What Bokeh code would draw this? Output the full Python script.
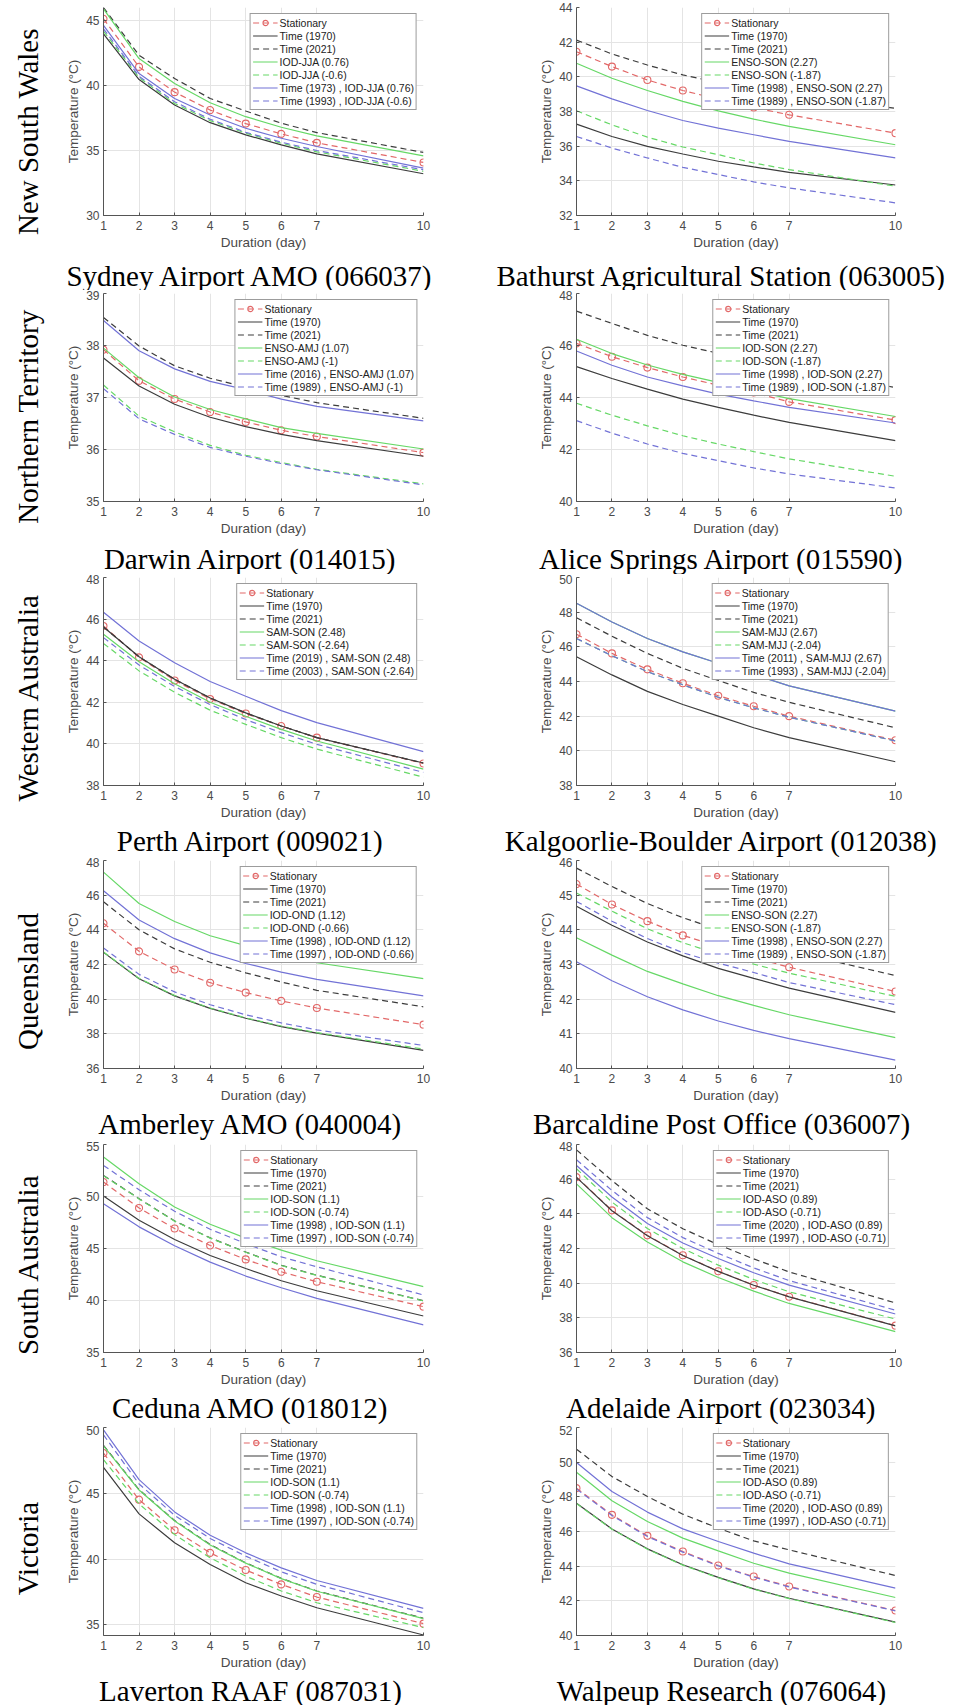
import math
from bokeh.plotting import figure
from bokeh.models import FixedTicker, Range1d, Legend, LegendItem
from bokeh.core.properties import value
from bokeh.layouts import column, row
from bokeh.embed import file_html
from bokeh.resources import INLINE

DURATION = [1, 2, 3, 4, 5, 6, 7, 10]
X_TICKS = [1, 2, 3, 4, 5, 6, 7, 10]

REGIONS = ["New South Wales", "Northern Territory", "Western Australia",
           "Queensland", "South Australia", "Victoria"]

# ---- Sydney Airport AMO (066037)
SYD_NAME = "Sydney Airport AMO (066037)"
SYD_LABELS = ["Stationary", "Time (1970)", "Time (2021)", "IOD-JJA (0.76)", "IOD-JJA (-0.6)",
              "Time (1973) , IOD-JJA (0.76)", "Time (1993) , IOD-JJA (-0.6)"]
SYD_STAT = [45.13, 41.43, 39.49, 38.11, 37.07, 36.28, 35.59, 34.08]
SYD_T1970 = [43.98, 40.46, 38.50, 37.14, 36.20, 35.43, 34.74, 33.21]
SYD_T2021 = [46.00, 42.32, 40.54, 39.00, 38.04, 37.10, 36.38, 34.85]
SYD_POS = [45.90, 42.07, 40.15, 38.67, 37.60, 36.79, 36.12, 34.59]
SYD_NEG = [44.18, 40.61, 38.62, 37.30, 36.33, 35.56, 34.90, 33.40]
SYD_TPOS = [44.62, 40.92, 39.00, 37.73, 36.71, 35.94, 35.31, 33.65]
SYD_TNEG = [44.36, 40.71, 38.75, 37.40, 36.40, 35.64, 35.00, 33.52]
SYD_YLIM = [30, 46]
SYD_YTICKS = [30, 35, 40, 45]

# ---- Bathurst Agricultural Station (063005)
BAT_NAME = "Bathurst Agricultural Station (063005)"
BAT_LABELS = ["Stationary", "Time (1970)", "Time (2021)", "ENSO-SON (2.27)", "ENSO-SON (-1.87)",
              "Time (1998) , ENSO-SON (2.27)", "Time (1989) , ENSO-SON (-1.87)"]
BAT_STAT = [41.45, 40.59, 39.82, 39.21, 38.71, 38.23, 37.81, 36.75]
BAT_T1970 = [37.27, 36.56, 35.99, 35.55, 35.13, 34.80, 34.49, 33.76]
BAT_T2021 = [42.12, 41.32, 40.68, 40.11, 39.67, 39.20, 38.86, 38.19]
BAT_POS = [40.78, 39.92, 39.21, 38.58, 38.04, 37.56, 37.14, 36.08]
BAT_NEG = [38.04, 37.23, 36.52, 35.95, 35.51, 35.03, 34.65, 33.69]
BAT_TPOS = [39.48, 38.73, 38.06, 37.48, 37.04, 36.66, 36.28, 35.32]
BAT_TNEG = [36.56, 35.89, 35.32, 34.78, 34.36, 33.94, 33.59, 32.73]
BAT_YLIM = [32, 44]
BAT_YTICKS = [32, 34, 36, 38, 40, 42, 44]

# ---- Darwin Airport (014015)
DAR_NAME = "Darwin Airport (014015)"
DAR_LABELS = ["Stationary", "Time (1970)", "Time (2021)", "ENSO-AMJ (1.07)", "ENSO-AMJ (-1)",
              "Time (2016) , ENSO-AMJ (1.07)", "Time (1989) , ENSO-AMJ (-1)"]
DAR_STAT = [37.92, 37.32, 36.97, 36.72, 36.53, 36.37, 36.25, 35.94]
DAR_T1970 = [37.76, 37.22, 36.87, 36.62, 36.44, 36.29, 36.17, 35.87]
DAR_T2021 = [38.54, 37.99, 37.61, 37.37, 37.20, 37.04, 36.90, 36.60]
DAR_POS = [37.95, 37.38, 37.01, 36.77, 36.59, 36.42, 36.31, 36.01]
DAR_NEG = [37.24, 36.64, 36.34, 36.08, 35.89, 35.75, 35.62, 35.34]
DAR_TPOS = [38.48, 37.90, 37.55, 37.31, 37.15, 36.97, 36.83, 36.55]
DAR_TNEG = [37.17, 36.59, 36.29, 36.04, 35.87, 35.73, 35.61, 35.32]
DAR_YLIM = [35, 39]
DAR_YTICKS = [35, 36, 37, 38, 39]

# ---- Alice Springs Airport (015590)
ALI_NAME = "Alice Springs Airport (015590)"
ALI_LABELS = ["Stationary", "Time (1970)", "Time (2021)", "IOD-SON (2.27)", "IOD-SON (-1.87)",
              "Time (1998) , IOD-SON (2.27)", "Time (1989) , IOD-SON (-1.87)"]
ALI_STAT = [46.08, 45.57, 45.15, 44.79, 44.47, 44.19, 43.83, 43.13]
ALI_T1970 = [45.19, 44.73, 44.32, 43.94, 43.62, 43.32, 43.04, 42.34]
ALI_T2021 = [47.32, 46.85, 46.39, 46.01, 45.70, 45.41, 45.15, 44.38]
ALI_POS = [46.24, 45.69, 45.25, 44.89, 44.58, 44.26, 43.96, 43.27]
ALI_NEG = [43.78, 43.32, 42.91, 42.53, 42.21, 41.92, 41.64, 40.97]
ALI_TPOS = [45.79, 45.24, 44.79, 44.45, 44.13, 43.87, 43.62, 43.02]
ALI_TNEG = [43.11, 42.63, 42.21, 41.85, 41.57, 41.29, 41.06, 40.52]
ALI_YLIM = [40, 48]
ALI_YTICKS = [40, 42, 44, 46, 48]

# ---- Perth Airport (009021)
PER_NAME = "Perth Airport (009021)"
PER_LABELS = ["Stationary", "Time (1970)", "Time (2021)", "SAM-SON (2.48)", "SAM-SON (-2.64)",
              "Time (2019) , SAM-SON (2.48)", "Time (2003) , SAM-SON (-2.64)"]
PER_STAT = [45.67, 44.16, 43.05, 42.16, 41.46, 40.86, 40.30, 39.06]
PER_T1970 = [45.62, 44.19, 43.11, 42.21, 41.49, 40.86, 40.30, 39.08]
PER_T2021 = [45.62, 44.19, 43.11, 42.21, 41.49, 40.86, 40.30, 39.08]
PER_POS = [45.27, 43.95, 42.89, 42.00, 41.33, 40.70, 40.14, 38.79]
PER_NEG = [44.83, 43.51, 42.48, 41.62, 40.94, 40.30, 39.75, 38.40]
PER_TPOS = [46.33, 44.95, 43.90, 43.00, 42.29, 41.60, 41.02, 39.63]
PER_TNEG = [45.11, 43.79, 42.76, 41.89, 41.17, 40.54, 39.98, 38.63]
PER_YLIM = [38, 48]
PER_YTICKS = [38, 40, 42, 44, 46, 48]

# ---- Kalgoorlie-Boulder Airport (012038)
KAL_NAME = "Kalgoorlie-Boulder Airport (012038)"
KAL_LABELS = ["Stationary", "Time (1970)", "Time (2021)", "SAM-MJJ (2.67)", "SAM-MJJ (-2.04)",
              "Time (2011) , SAM-MJJ (2.67)", "Time (1993) , SAM-MJJ (-2.04)"]
KAL_STAT = [46.73, 45.62, 44.70, 43.90, 43.18, 42.57, 42.00, 40.61]
KAL_T1970 = [45.43, 44.38, 43.43, 42.67, 42.00, 41.33, 40.76, 39.37]
KAL_T2021 = [47.68, 46.61, 45.62, 44.76, 44.06, 43.37, 42.80, 41.33]
KAL_POS = [48.51, 47.43, 46.48, 45.71, 45.05, 44.40, 43.75, 42.29]
KAL_NEG = [46.48, 45.49, 44.57, 43.81, 43.09, 42.48, 41.94, 40.57]
KAL_TPOS = [48.51, 47.43, 46.48, 45.71, 45.05, 44.40, 43.75, 42.29]
KAL_TNEG = [46.48, 45.49, 44.57, 43.81, 43.09, 42.48, 41.94, 40.57]
KAL_YLIM = [38, 50]
KAL_YTICKS = [38, 40, 42, 44, 46, 48, 50]

# ---- Amberley AMO (040004)
AMB_NAME = "Amberley AMO (040004)"
AMB_LABELS = ["Stationary", "Time (1970)", "Time (2021)", "IOD-OND (1.12)", "IOD-OND (-0.66)",
              "Time (1998) , IOD-OND (1.12)", "Time (1997) , IOD-OND (-0.66)"]
AMB_STAT = [44.38, 42.76, 41.71, 40.95, 40.38, 39.90, 39.49, 38.53]
AMB_T1970 = [42.70, 41.18, 40.19, 39.47, 38.90, 38.42, 38.04, 37.05]
AMB_T2021 = [45.62, 44.00, 42.90, 42.13, 41.52, 40.99, 40.51, 39.56]
AMB_POS = [47.33, 45.52, 44.48, 43.66, 43.09, 42.57, 42.10, 41.18]
AMB_NEG = [42.72, 41.20, 40.21, 39.49, 38.92, 38.45, 38.07, 37.12]
AMB_TPOS = [46.25, 44.57, 43.49, 42.67, 42.06, 41.56, 41.14, 40.19]
AMB_TNEG = [42.95, 41.43, 40.42, 39.68, 39.10, 38.63, 38.23, 37.33]
AMB_YLIM = [36, 48]
AMB_YTICKS = [36, 38, 40, 42, 44, 46, 48]

# ---- Barcaldine Post Office (036007)
BAR_NAME = "Barcaldine Post Office (036007)"
BAR_LABELS = ["Stationary", "Time (1970)", "Time (2021)", "ENSO-SON (2.27)", "ENSO-SON (-1.87)",
              "Time (1998) , ENSO-SON (2.27)", "Time (1989) , ENSO-SON (-1.87)"]
BAR_STAT = [45.32, 44.73, 44.25, 43.84, 43.52, 43.20, 42.92, 42.22]
BAR_T1970 = [44.68, 44.13, 43.65, 43.25, 42.89, 42.60, 42.32, 41.62]
BAR_T2021 = [45.78, 45.25, 44.76, 44.35, 44.01, 43.68, 43.39, 42.68]
BAR_POS = [43.77, 43.27, 42.80, 42.44, 42.10, 41.82, 41.55, 40.89]
BAR_NEG = [45.06, 44.54, 44.03, 43.63, 43.30, 43.01, 42.75, 42.08]
BAR_TPOS = [43.08, 42.53, 42.07, 41.69, 41.37, 41.10, 40.86, 40.24]
BAR_TNEG = [44.82, 44.25, 43.75, 43.34, 43.04, 42.77, 42.48, 41.84]
BAR_YLIM = [40, 46]
BAR_YTICKS = [40, 41, 42, 43, 44, 45, 46]

# ---- Ceduna AMO (018012)
CED_NAME = "Ceduna AMO (018012)"
CED_LABELS = ["Stationary", "Time (1970)", "Time (2021)", "IOD-SON (1.1)", "IOD-SON (-0.74)",
              "Time (1998) , IOD-SON (1.1)", "Time (1997) , IOD-SON (-0.74)"]
CED_STAT = [51.39, 48.90, 46.92, 45.29, 43.95, 42.76, 41.80, 39.41]
CED_T1970 = [50.05, 47.71, 45.86, 44.33, 43.08, 41.90, 40.94, 38.51]
CED_T2021 = [52.03, 49.79, 47.65, 46.02, 44.66, 43.39, 42.43, 39.98]
CED_POS = [53.79, 51.23, 48.99, 47.33, 46.00, 44.85, 43.82, 41.33]
CED_NEG = [52.00, 49.77, 47.63, 46.00, 44.64, 43.37, 42.41, 39.96]
CED_TPOS = [49.31, 47.08, 45.26, 43.69, 42.35, 41.23, 40.21, 37.65]
CED_TNEG = [52.99, 50.65, 48.58, 46.85, 45.47, 44.20, 43.24, 40.53]
CED_YLIM = [35, 55]
CED_YTICKS = [35, 40, 45, 50, 55]

# ---- Adelaide Airport (023034)
ADE_NAME = "Adelaide Airport (023034)"
ADE_LABELS = ["Stationary", "Time (1970)", "Time (2021)", "IOD-ASO (0.89)", "IOD-ASO (-0.71)",
              "Time (2020) , IOD-ASO (0.89)", "Time (1997) , IOD-ASO (-0.71)"]
ADE_STAT = [46.12, 44.20, 42.76, 41.61, 40.69, 39.89, 39.22, 37.55]
ADE_T1970 = [46.10, 44.18, 42.74, 41.60, 40.68, 39.88, 39.21, 37.54]
ADE_T2021 = [47.69, 45.92, 44.29, 43.14, 42.22, 41.40, 40.65, 38.86]
ADE_POS = [45.73, 43.78, 42.38, 41.23, 40.33, 39.54, 38.83, 37.20]
ADE_NEG = [46.60, 44.68, 43.15, 42.00, 41.04, 40.21, 39.50, 37.93]
ADE_TPOS = [46.79, 44.97, 43.44, 42.32, 41.42, 40.60, 39.89, 38.22]
ADE_TNEG = [47.12, 45.35, 43.78, 42.63, 41.72, 40.88, 40.15, 38.44]
ADE_YLIM = [36, 48]
ADE_YTICKS = [36, 38, 40, 42, 44, 46, 48]

# ---- Laverton RAAF (087031)
LAV_NAME = "Laverton RAAF (087031)"
LAV_LABELS = ["Stationary", "Time (1970)", "Time (2021)", "IOD-SON (1.1)", "IOD-SON (-0.74)",
              "Time (1998) , IOD-SON (1.1)", "Time (1997) , IOD-SON (-0.74)"]
LAV_STAT = [48.06, 44.52, 42.20, 40.48, 39.17, 38.08, 37.12, 35.10]
LAV_T1970 = [46.97, 43.44, 41.24, 39.60, 38.21, 37.20, 36.31, 34.24]
LAV_T2021 = [48.64, 45.28, 42.93, 41.11, 39.72, 38.54, 37.58, 35.51]
LAV_POS = [48.60, 45.25, 42.90, 41.08, 39.70, 38.52, 37.56, 35.48]
LAV_NEG = [47.56, 44.20, 41.87, 40.10, 38.71, 37.58, 36.69, 34.80]
LAV_TPOS = [49.82, 46.04, 43.59, 41.82, 40.48, 39.34, 38.38, 36.26]
LAV_TNEG = [49.44, 45.71, 43.33, 41.57, 40.23, 39.04, 38.08, 35.93]
LAV_YLIM = [34.2, 50]
LAV_YTICKS = [35, 40, 45, 50]

# ---- Walpeup Research (076064)
WAL_NAME = "Walpeup Research (076064)"
WAL_LABELS = ["Stationary", "Time (1970)", "Time (2021)", "IOD-ASO (0.89)", "IOD-ASO (-0.71)",
              "Time (2020) , IOD-ASO (0.89)", "Time (1997) , IOD-ASO (-0.71)"]
WAL_STAT = [48.50, 46.96, 45.75, 44.85, 44.04, 43.40, 42.83, 41.44]
WAL_T1970 = [47.63, 46.15, 45.00, 44.08, 43.35, 42.69, 42.15, 40.77]
WAL_T2021 = [50.75, 49.17, 48.02, 47.00, 46.19, 45.46, 44.94, 43.46]
WAL_POS = [49.42, 47.77, 46.58, 45.62, 44.88, 44.17, 43.60, 42.19]
WAL_NEG = [47.61, 46.13, 44.98, 44.06, 43.33, 42.67, 42.13, 40.75]
WAL_TPOS = [49.98, 48.31, 47.12, 46.15, 45.42, 44.75, 44.13, 42.73]
WAL_TNEG = [48.45, 46.92, 45.71, 44.81, 44.01, 43.37, 42.80, 41.42]
WAL_YLIM = [40, 52]
WAL_YTICKS = [40, 42, 44, 46, 48, 50, 52]

RED = "#e26868"
BLACK = "#3c3c3c"
GREEN = "#66d866"
BLUE = "#7272d6"
DASH = "6 4"
STYLES = [(RED, DASH), (BLACK, "solid"), (BLACK, DASH), (GREEN, "solid"),
          (GREEN, DASH), (BLUE, "solid"), (BLUE, DASH)]
AX_COLOR = "#555555"
SANS = "Liberation Sans"
SERIF = "Liberation Serif"

# layout geometry (pixels)
PAGE_H = 1705
REGION_W = 50
FRAME_H = 209
BOTTOM_B = 36
TOP_B = [7, 3, 3, 3, 3, 2]
STRIP_H = [38, 36, 35, 36, 36, 33]
STRIP_BASE = [31, 28, 26, 26, 26, 26]   # wanted baseline, from strip top
BASELINE_FIX = 8                        # observed downward drift of rendered baseline
REGION_Y = [131, 416, 697, 981, 1264, 1548]   # label centres, from page top


def text_fig(width, height):
    f = figure(width=width, height=height, x_range=Range1d(0, width),
               y_range=Range1d(0, height), output_backend="svg", toolbar_location=None,
               title=None, x_axis_location=None, y_axis_location=None,
               min_border=0, min_border_left=0, min_border_right=0,
               min_border_top=0, min_border_bottom=0,
               outline_line_color=None, background_fill_color="white",
               border_fill_color="white")
    f.grid.visible = False
    return f


def make_panel(series, labels, ylim, yticks, left_col, top_b):
    if left_col:
        w, bl, br = 480 - REGION_W, 103 - REGION_W, 57
    else:
        w, bl, br = 481, 96, 66
    h = top_b + FRAME_H + BOTTOM_B
    p = figure(width=w, height=h, x_range=Range1d(1, 10), y_range=Range1d(*ylim),
               output_backend="svg", toolbar_location=None, title=None,
               min_border_left=bl, min_border_right=br, min_border_top=top_b,
               min_border_bottom=BOTTOM_B,
               outline_line_color=None, background_fill_color="white",
               border_fill_color="white")
    p.xaxis.ticker = FixedTicker(ticks=X_TICKS)
    p.yaxis.ticker = FixedTicker(ticks=yticks)
    p.xaxis.axis_label = "Duration (day)"
    p.yaxis.axis_label = "Temperature (°C)"
    for ax in (p.xaxis[0], p.yaxis[0]):
        ax.axis_line_color = AX_COLOR
        ax.major_tick_line_color = AX_COLOR
        ax.major_tick_in = 3
        ax.major_tick_out = 0
        ax.minor_tick_in = 0
        ax.minor_tick_out = 0
        ax.major_label_text_font = SANS
        ax.major_label_text_font_size = "12px"
        ax.major_label_text_color = "#4a4a4a"
        ax.axis_label_text_font = SANS
        ax.axis_label_text_font_size = "13.5px"
        ax.axis_label_text_font_style = "normal"
        ax.axis_label_text_color = "#4a4a4a"
    p.xaxis[0].major_label_standoff = 5
    p.xaxis[0].axis_label_standoff = 2
    p.yaxis[0].major_label_standoff = 4
    p.yaxis[0].axis_label_standoff = 2
    p.xgrid.grid_line_color = "#e4e4e4"
    p.ygrid.grid_line_color = "#e4e4e4"

    items = []
    for i, (vals, (col, dash)) in enumerate(zip(series, STYLES)):
        r = p.line(DURATION, vals, line_color=col, line_dash=dash, line_width=1.2)
        rs = [r]
        if i == 0:
            s = p.scatter(DURATION, vals, marker="circle", size=7, line_color=col,
                          fill_color=None, line_width=1.1)
            rs.append(s)
        items.append(LegendItem(label=labels[i], renderers=rs))

    legend = Legend(items=items, location="top_right", margin=6, padding=2, spacing=0,
                    label_height=13, glyph_height=13, glyph_width=25, label_standoff=2,
                    label_text_font=SANS, label_text_font_size="10.5px",
                    label_text_color="#222222", border_line_color="#3a3a3a",
                    border_line_width=1, background_fill_color="white",
                    background_fill_alpha=1.0)
    p.add_layout(legend)
    return p


panels = [
    ([SYD_STAT, SYD_T1970, SYD_T2021, SYD_POS, SYD_NEG, SYD_TPOS, SYD_TNEG], SYD_LABELS, SYD_YLIM, SYD_YTICKS),
    ([BAT_STAT, BAT_T1970, BAT_T2021, BAT_POS, BAT_NEG, BAT_TPOS, BAT_TNEG], BAT_LABELS, BAT_YLIM, BAT_YTICKS),
    ([DAR_STAT, DAR_T1970, DAR_T2021, DAR_POS, DAR_NEG, DAR_TPOS, DAR_TNEG], DAR_LABELS, DAR_YLIM, DAR_YTICKS),
    ([ALI_STAT, ALI_T1970, ALI_T2021, ALI_POS, ALI_NEG, ALI_TPOS, ALI_TNEG], ALI_LABELS, ALI_YLIM, ALI_YTICKS),
    ([PER_STAT, PER_T1970, PER_T2021, PER_POS, PER_NEG, PER_TPOS, PER_TNEG], PER_LABELS, PER_YLIM, PER_YTICKS),
    ([KAL_STAT, KAL_T1970, KAL_T2021, KAL_POS, KAL_NEG, KAL_TPOS, KAL_TNEG], KAL_LABELS, KAL_YLIM, KAL_YTICKS),
    ([AMB_STAT, AMB_T1970, AMB_T2021, AMB_POS, AMB_NEG, AMB_TPOS, AMB_TNEG], AMB_LABELS, AMB_YLIM, AMB_YTICKS),
    ([BAR_STAT, BAR_T1970, BAR_T2021, BAR_POS, BAR_NEG, BAR_TPOS, BAR_TNEG], BAR_LABELS, BAR_YLIM, BAR_YTICKS),
    ([CED_STAT, CED_T1970, CED_T2021, CED_POS, CED_NEG, CED_TPOS, CED_TNEG], CED_LABELS, CED_YLIM, CED_YTICKS),
    ([ADE_STAT, ADE_T1970, ADE_T2021, ADE_POS, ADE_NEG, ADE_TPOS, ADE_TNEG], ADE_LABELS, ADE_YLIM, ADE_YTICKS),
    ([LAV_STAT, LAV_T1970, LAV_T2021, LAV_POS, LAV_NEG, LAV_TPOS, LAV_TNEG], LAV_LABELS, LAV_YLIM, LAV_YTICKS),
    ([WAL_STAT, WAL_T1970, WAL_T2021, WAL_POS, WAL_NEG, WAL_TPOS, WAL_TNEG], WAL_LABELS, WAL_YLIM, WAL_YTICKS),
]
STATIONS = [SYD_NAME, BAT_NAME, DAR_NAME, ALI_NAME, PER_NAME, KAL_NAME,
            AMB_NAME, BAR_NAME, CED_NAME, ADE_NAME, LAV_NAME, WAL_NAME]

# region labels: one tall text column down the left edge
reg = text_fig(REGION_W, PAGE_H)
reg.text(x=[27] * 6, y=[PAGE_H - c for c in REGION_Y], text=REGIONS, angle=math.pi / 2,
         text_font=value(SERIF), text_font_size=value("29px"), text_color="black",
         text_align="center", text_baseline="middle")

blocks = []
for r in range(6):
    tb = TOP_B[r]
    left = make_panel(*panels[2 * r], left_col=True, top_b=tb)
    right = make_panel(*panels[2 * r + 1], left_col=False, top_b=tb)
    blocks.append(row(left, right, spacing=0))

    sh = STRIP_H[r]
    strip = text_fig(961 - REGION_W, sh)
    yb = sh - (STRIP_BASE[r] - BASELINE_FIX)
    strip.text(x=[250 - REGION_W, 721 - REGION_W], y=[yb, yb],
               text=[STATIONS[2 * r], STATIONS[2 * r + 1]],
               text_font=value(SERIF), text_font_size=value("29px"), text_color="black",
               text_align="center", text_baseline="alphabetic")
    blocks.append(strip)

main = column(*blocks, spacing=0)
page = row(reg, main, spacing=0)
open("out.html", "w").write(file_html(page, INLINE))
